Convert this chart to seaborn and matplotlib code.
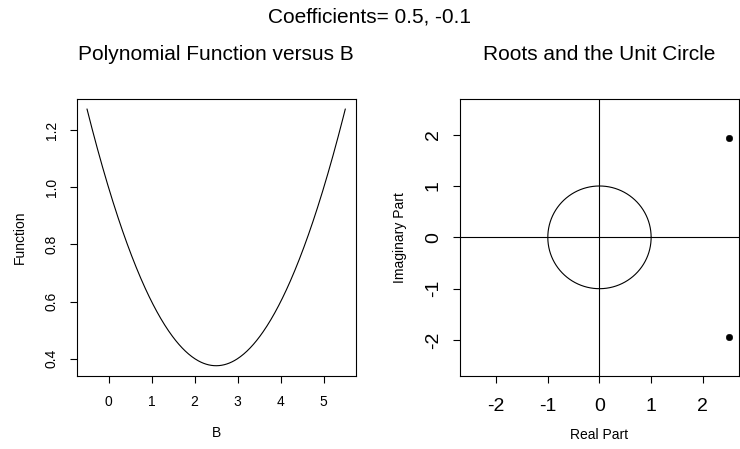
import matplotlib
matplotlib.use("Agg")
import matplotlib.pyplot as plt
import numpy as np
import pandas as pd
import seaborn as sns

# AR coefficients shown in the title
coefs = [0.5, -0.1]
b_range = [-0.5, 5.5]

# roots of 1 - 0.5B + 0.1B^2
root_real = [2.5, 2.5]
root_imag = [1.94, -1.94]

x_ticks_left = [0, 1, 2, 3, 4, 5]
y_ticks_left = [0.4, 0.6, 0.8, 1.0, 1.2]
ticks_right = [-2, -1, 0, 1, 2]

sns.set_style("ticks")
plt.rcParams['font.family'] = ['Liberation Sans', 'DejaVu Sans']
plt.rcParams['text.color'] = 'black'
plt.rcParams['axes.labelcolor'] = 'black'
plt.rcParams['xtick.color'] = 'black'
plt.rcParams['ytick.color'] = 'black'
plt.rcParams['axes.unicode_minus'] = False

fig = plt.figure(figsize=(7.4, 4.49), dpi=100)
ax1 = fig.add_axes([0.1036, 0.1626, 0.377, 0.6176])
ax2 = fig.add_axes([0.6216, 0.1626, 0.377, 0.6176])

# polynomial 1 - phi1*B - phi2*B^2 over the B range
B = np.linspace(b_range[0], b_range[1], 400)
df = pd.DataFrame({"B": B, "Function": 1 - coefs[0] * B - coefs[1] * B ** 2})
sns.lineplot(data=df, x="B", y="Function", ax=ax1, color="black", linewidth=0.8)
ax1.set_xlim(-0.74, 5.74)
ax1.set_ylim(0.339, 1.311)
ax1.set_xticks(x_ticks_left)
ax1.set_yticks(y_ticks_left)
ax1.set_yticklabels([str(v) for v in y_ticks_left], rotation=90, va="center")
ax1.tick_params(labelsize=10, length=5, width=0.8)
ax1.tick_params(axis="x", pad=9)
ax1.tick_params(axis="y", pad=8)
ax1.set_xlabel("B", fontsize=10, labelpad=12)
ax1.set_ylabel("Function", fontsize=10, labelpad=13)
ax1.set_title("Polynomial Function versus B", fontsize=15, pad=28)

# unit circle, axes and roots
t = np.linspace(0, 2 * np.pi, 400)
circ = pd.DataFrame({"re": np.cos(t), "im": np.sin(t)})
ax2.plot(circ["re"], circ["im"], color="black", linewidth=0.8)
ax2.axhline(0, color="black", linewidth=0.8)
ax2.axvline(0, color="black", linewidth=0.8)
roots = pd.DataFrame({"re": root_real, "im": root_imag})
sns.scatterplot(data=roots, x="re", y="im", ax=ax2, color="black", s=22, edgecolor="black")
ax2.set_xlim(-2.7, 2.7)
ax2.set_ylim(-2.7, 2.7)
ax2.set_xticks(ticks_right)
ax2.set_yticks(ticks_right)
ax2.set_yticklabels([str(v) for v in ticks_right], rotation=90, va="center")
ax2.tick_params(labelsize=14, length=5, width=0.8)
ax2.tick_params(axis="x", pad=11)
ax2.tick_params(axis="y", pad=8)
ax2.set_xlabel("Real Part", fontsize=10, labelpad=9)
ax2.set_ylabel("Imaginary Part", fontsize=10, labelpad=13)
ax2.set_title("Roots and the Unit Circle", fontsize=15, pad=28)

for ax in (ax1, ax2):
    for s in ax.spines.values():
        s.set_visible(True)
        s.set_linewidth(0.8)
        s.set_color("black")

fig.text(0.5, 0.962, "Coefficients= 0.5, -0.1", ha="center", va="center", fontsize=15)

fig.savefig("out.png", dpi=100)
